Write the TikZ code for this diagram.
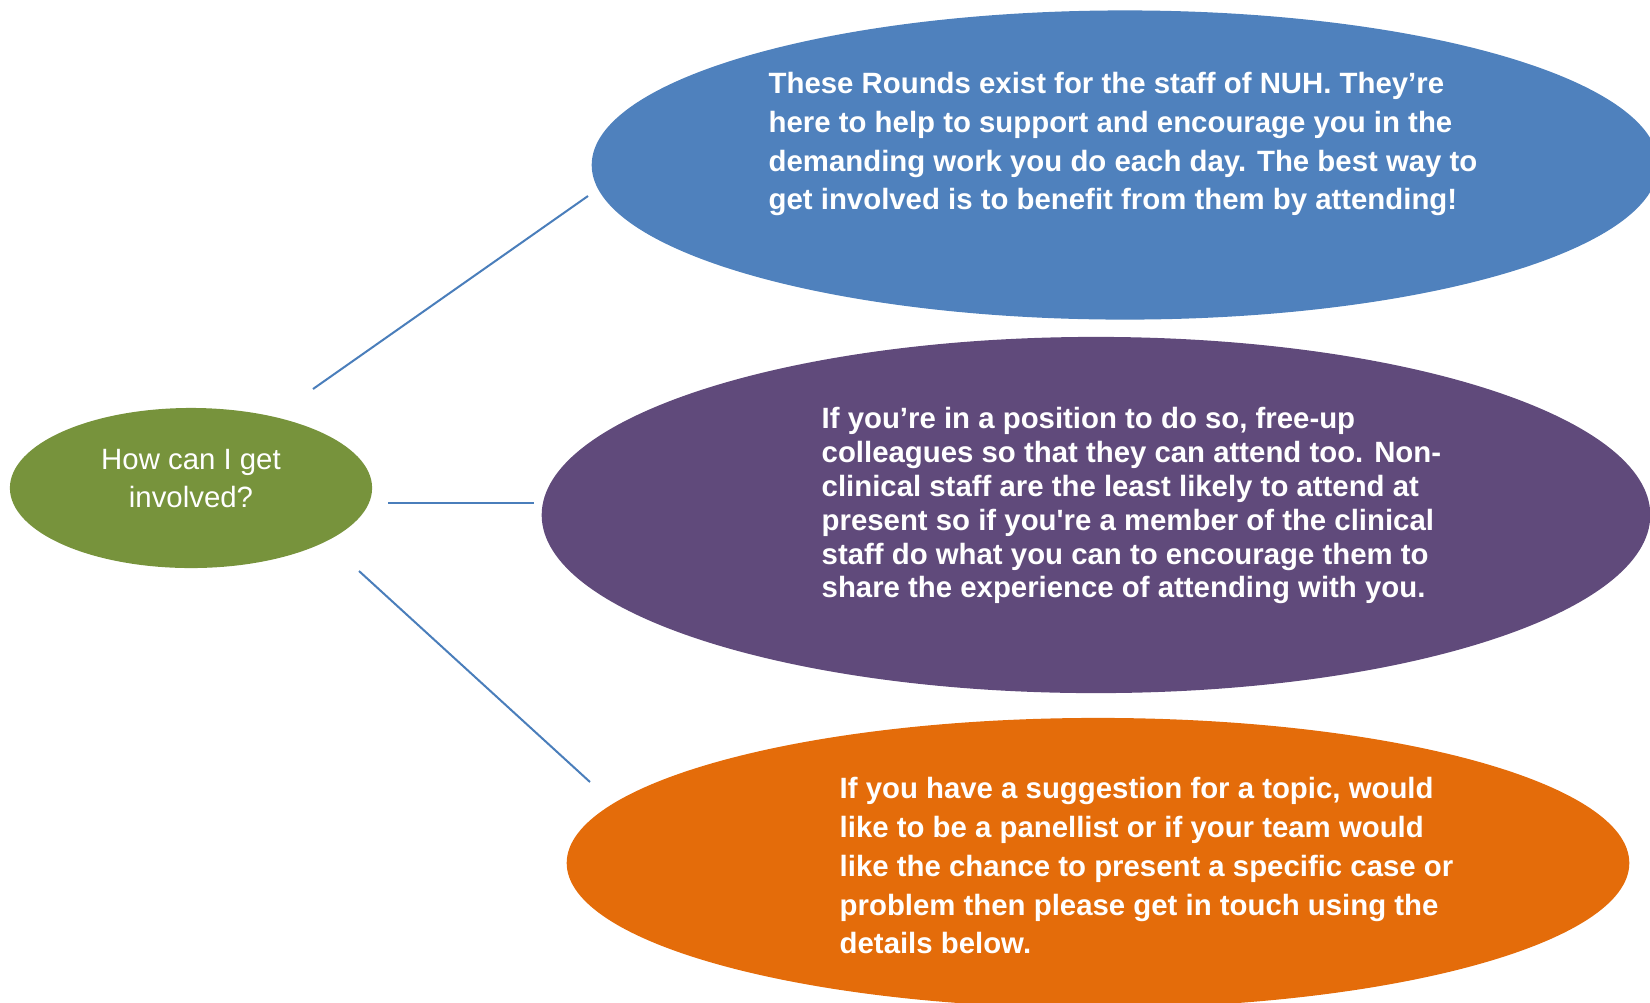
\documentclass[tikz,border=0pt]{standalone}
\usepackage{fontspec}
\setmainfont{Liberation Sans}
\usetikzlibrary{shapes.geometric}

\definecolor{roundsblue}{HTML}{4F81BD}
\definecolor{roundspurple}{HTML}{604A7B}
\definecolor{roundsorange}{HTML}{E46C0A}
\definecolor{roundsgreen}{HTML}{77933C}
\definecolor{spokeblue}{HTML}{4A7EBB}

\tikzset{
  blob/.style={ellipse,inner sep=0pt,draw=none},
  blurb/.style={anchor=north west,inner sep=0pt,align=left,text=white},
  spoke/.style={draw=spokeblue,line width=0.57pt}
}

\begin{document}
\begin{tikzpicture}[x=0.01cm,y=-0.01cm]

\useasboundingbox (0,0) rectangle (1650,1002);
\clip (0,0) rectangle (1650,1002);

% the question
\node (ask) [blob,fill=roundsgreen,minimum width=3.62cm,minimum height=1.60cm] at (191,488) {};
\node (asktext) [text=white,align=center,anchor=north,inner sep=0pt,
  font=\fontsize{8.35}{10.8}\selectfont] at (191,449) {How can I get\\involved?};

% the three answers
\node (attend) [blob,fill=roundsblue,minimum width=10.66cm,minimum height=3.09cm] at (1125,165) {};
\node (attendtext) [blurb,font=\fontsize{8.35}{10.95}\selectfont\bfseries] at (768,72)
  {These Rounds exist for the staff of NUH. They’re\\
   here to help to support and encourage you in the\\
   demanding work you do each day. The best way to\\
   get involved is to benefit from them by attending!};

\node (freeup) [blob,fill=roundspurple,minimum width=11.08cm,minimum height=3.56cm] at (1096,515) {};
\node (freeuptext) [blurb,font=\fontsize{8.35}{9.6}\selectfont\bfseries] at (821,407)
  {If you’re in a position to do so, free-up\\
   colleagues so that they can attend too. Non-\\
   clinical staff are the least likely to attend at\\
   present so if you\textquotesingle re a member of the clinical\\
   staff do what you can to encourage them to\\
   share the experience of attending with you.};

\node (suggest) [blob,fill=roundsorange,minimum width=10.62cm,minimum height=2.90cm] at (1098,863) {};
\node (suggesttext) [blurb,font=\fontsize{8.35}{11.0}\selectfont\bfseries] at (839,777)
  {If you have a suggestion for a topic, would\\
   like to be a panellist or if your team would\\
   like the chance to present a specific case or\\
   problem then please get in touch using the\\
   details below.};

% spokes, they stop short of the ellipses
\coordinate (s1) at (313,389);
\coordinate (e1) at (588,196);
\coordinate (s2) at (388,503);
\coordinate (e2) at (534,503);
\coordinate (s3) at (359,571);
\coordinate (e3) at (590,782);

\draw [spoke] (s1) -- (e1);
\draw [spoke] (s2) -- (e2);
\draw [spoke] (s3) -- (e3);

\end{tikzpicture}
\end{document}
